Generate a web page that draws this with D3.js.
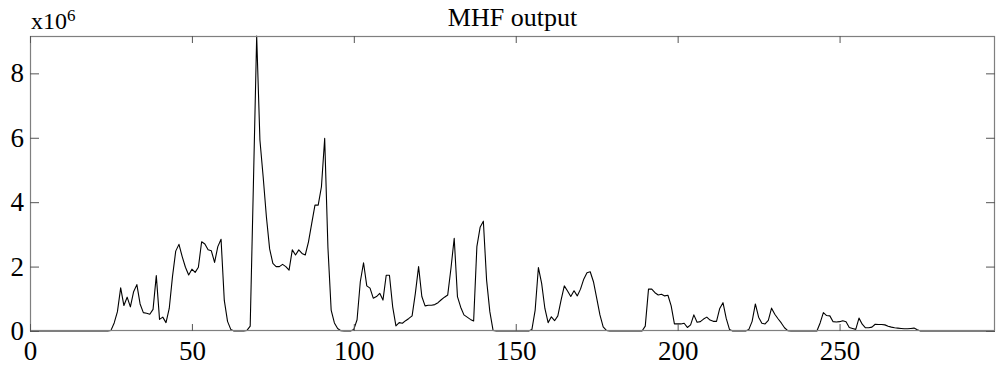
<!DOCTYPE html>
<html>
<head>
<meta charset="utf-8">
<script src="https://cdn.jsdelivr.net/npm/d3@7"></script>
<style>
  html, body { margin: 0; padding: 0; background: #fff; }
  svg { display: block; font-family: "Liberation Serif", "Times New Roman", serif; }
</style>
</head>
<body>
<div id="chart"></div>
<script>
// MHF output, values in units of 1e6, one per sample index 0..298
const mhfValues = [
  0, 0, 0, 0, 0, 0, 0, 0, 0, 0,
  0, 0, 0, 0, 0, 0, 0, 0, 0, 0,
  0, 0, 0, 0, 0, 0.02, 0.25, 0.6, 1.34, 0.79,
  1.05, 0.75, 1.22, 1.44, 0.84, 0.57, 0.55, 0.52, 0.67, 1.72,
  0.36, 0.43, 0.26, 0.7, 1.69, 2.48, 2.69, 2.31, 1.98, 1.74,
  1.92, 1.82, 1.98, 2.77, 2.7, 2.52, 2.49, 2.13, 2.62, 2.85,
  0.95, 0.3, 0.05, 0, 0, 0, 0, 0.02, 0.15, 4.6,
  9.16, 5.93, 4.79, 3.55, 2.55, 2.1, 2.0, 2.0, 2.07, 2.0,
  1.89, 2.52, 2.36, 2.52, 2.41, 2.36, 2.77, 3.34, 3.91, 3.91,
  4.48, 5.98, 2.6, 0.65, 0.25, 0.08, 0.01, 0, 0, 0,
  0.05, 0.35, 1.53, 2.12, 1.4, 1.33, 1.02, 1.07, 1.17, 0.96,
  1.73, 1.73, 0.75, 0.16, 0.26, 0.24, 0.32, 0.39, 0.47, 1.17,
  2.0, 1.07, 0.78, 0.8, 0.8, 0.82, 0.88, 0.97, 1.05, 1.12,
  1.95, 2.88, 1.07, 0.74, 0.5, 0.43, 0.36, 0.31, 2.62, 3.22,
  3.41, 1.58, 0.6, 0.02, 0, 0, 0, 0, 0, 0,
  0, 0, 0, 0, 0, 0.05, 0.65, 1.97, 1.48, 0.7,
  0.26, 0.44, 0.32, 0.47, 0.96, 1.4, 1.24, 1.07, 1.25, 1.09,
  1.3, 1.61, 1.81, 1.84, 1.53, 1.02, 0.5, 0.13, 0.02, 0,
  0, 0, 0, 0, 0, 0, 0, 0, 0, 0,
  0.15, 1.3, 1.3, 1.19, 1.12, 1.14, 1.09, 1.11, 0.78, 0.22,
  0.22, 0.22, 0.24, 0.11, 0.19, 0.5, 0.27, 0.29, 0.37, 0.43,
  0.34, 0.3, 0.3, 0.7, 0.88, 0.39, 0.05, 0, 0, 0,
  0, 0, 0.05, 0.3, 0.84, 0.43, 0.24, 0.22, 0.33, 0.71,
  0.52, 0.38, 0.25, 0.1, 0.01, 0, 0, 0, 0, 0,
  0, 0, 0, 0, 0.25, 0.57, 0.48, 0.47, 0.29, 0.28,
  0.29, 0.32, 0.29, 0.11, 0.08, 0.05, 0.4, 0.21, 0.1, 0.1,
  0.12, 0.21, 0.2, 0.2, 0.19, 0.15, 0.12, 0.1, 0.09, 0.08,
  0.07, 0.07, 0.08, 0.09, 0.04, 0, 0, 0, 0, 0,
  0, 0, 0, 0, 0, 0, 0, 0, 0, 0,
  0, 0, 0, 0, 0, 0, 0, 0, 0
];
const xTicks = [0, 50, 100, 150, 200, 250];
const yTicks = [0, 2, 4, 6, 8];
const titleText = "MHF output";

const WIDTH = 996;
const HEIGHT = 372;
const MARGIN = { TOP: 36, RIGHT: 1, BOTTOM: 41, LEFT: 30 };
const FONT_SIZE = 27;
const FRAME_COLOR = "#7f7f7f";

const plotW = WIDTH - MARGIN.LEFT - MARGIN.RIGHT;
const plotH = HEIGHT - MARGIN.TOP - MARGIN.BOTTOM;

const data = mhfValues.map((v, i) => ({ x: i, y: v }));

const x = d3.scaleLinear([0, data.length - 1], [0, plotW]);
const y = d3.scaleLinear([0, d3.max(mhfValues)], [plotH, 0]);

const svg = d3.select("#chart")
  .append("svg")
  .attr("width", WIDTH)
  .attr("height", HEIGHT);

const g = svg.append("g")
  .attr("transform", `translate(${MARGIN.LEFT}, ${MARGIN.TOP})`);

// data line
g.append("path")
  .datum(data)
  .attr("fill", "none")
  .attr("stroke", "#000")
  .attr("stroke-width", 1.1)
  .attr("stroke-linejoin", "round")
  .attr("d", d3.line().x((d) => x(d.x)).y((d) => y(d.y)));

// frame
g.append("rect")
  .attr("x", 0.5)
  .attr("y", 0.5)
  .attr("width", plotW - 1)
  .attr("height", plotH - 1)
  .attr("fill", "none")
  .attr("stroke", FRAME_COLOR)
  .attr("stroke-width", 1.2);

const styleAxis = (sel, withText) => {
  sel.select(".domain").remove();
  sel.selectAll(".tick line").attr("stroke", "#555").attr("stroke-width", 1);
  if (withText) {
    sel.selectAll("text")
      .attr("fill", "#000")
      .style("font-size", `${FONT_SIZE}px`)
      .style("font-family", '"Liberation Serif", "Times New Roman", serif');
  } else {
    sel.selectAll("text").remove();
  }
};

g.append("g")
  .attr("transform", `translate(0, ${plotH})`)
  .call(d3.axisBottom(x).tickValues(xTicks).tickSizeInner(-7).tickSizeOuter(0).tickPadding(10))
  .call((s) => styleAxis(s, true));

g.append("g")
  .call(d3.axisTop(x).tickValues(xTicks).tickSizeInner(-7).tickSizeOuter(0))
  .call((s) => styleAxis(s, false));

g.append("g")
  .call(d3.axisLeft(y).tickValues(yTicks).tickSizeInner(-9).tickSizeOuter(0).tickPadding(6))
  .call((s) => styleAxis(s, true));

g.append("g")
  .attr("transform", `translate(${plotW}, 0)`)
  .call(d3.axisRight(y).tickValues(yTicks).tickSizeInner(-9).tickSizeOuter(0))
  .call((s) => styleAxis(s, false));

// title
svg.append("text")
  .attr("x", MARGIN.LEFT + plotW / 2)
  .attr("y", 26)
  .attr("text-anchor", "middle")
  .style("font-size", "26px")
  .text(titleText);

// exponent label
const expLabel = svg.append("text")
  .attr("x", MARGIN.LEFT + 1)
  .attr("y", 29)
  .style("font-size", "24px");
expLabel.append("tspan").text("x10");
expLabel.append("tspan")
  .attr("dy", -8)
  .style("font-size", "17px")
  .text("6");
</script>
</body>
</html>
